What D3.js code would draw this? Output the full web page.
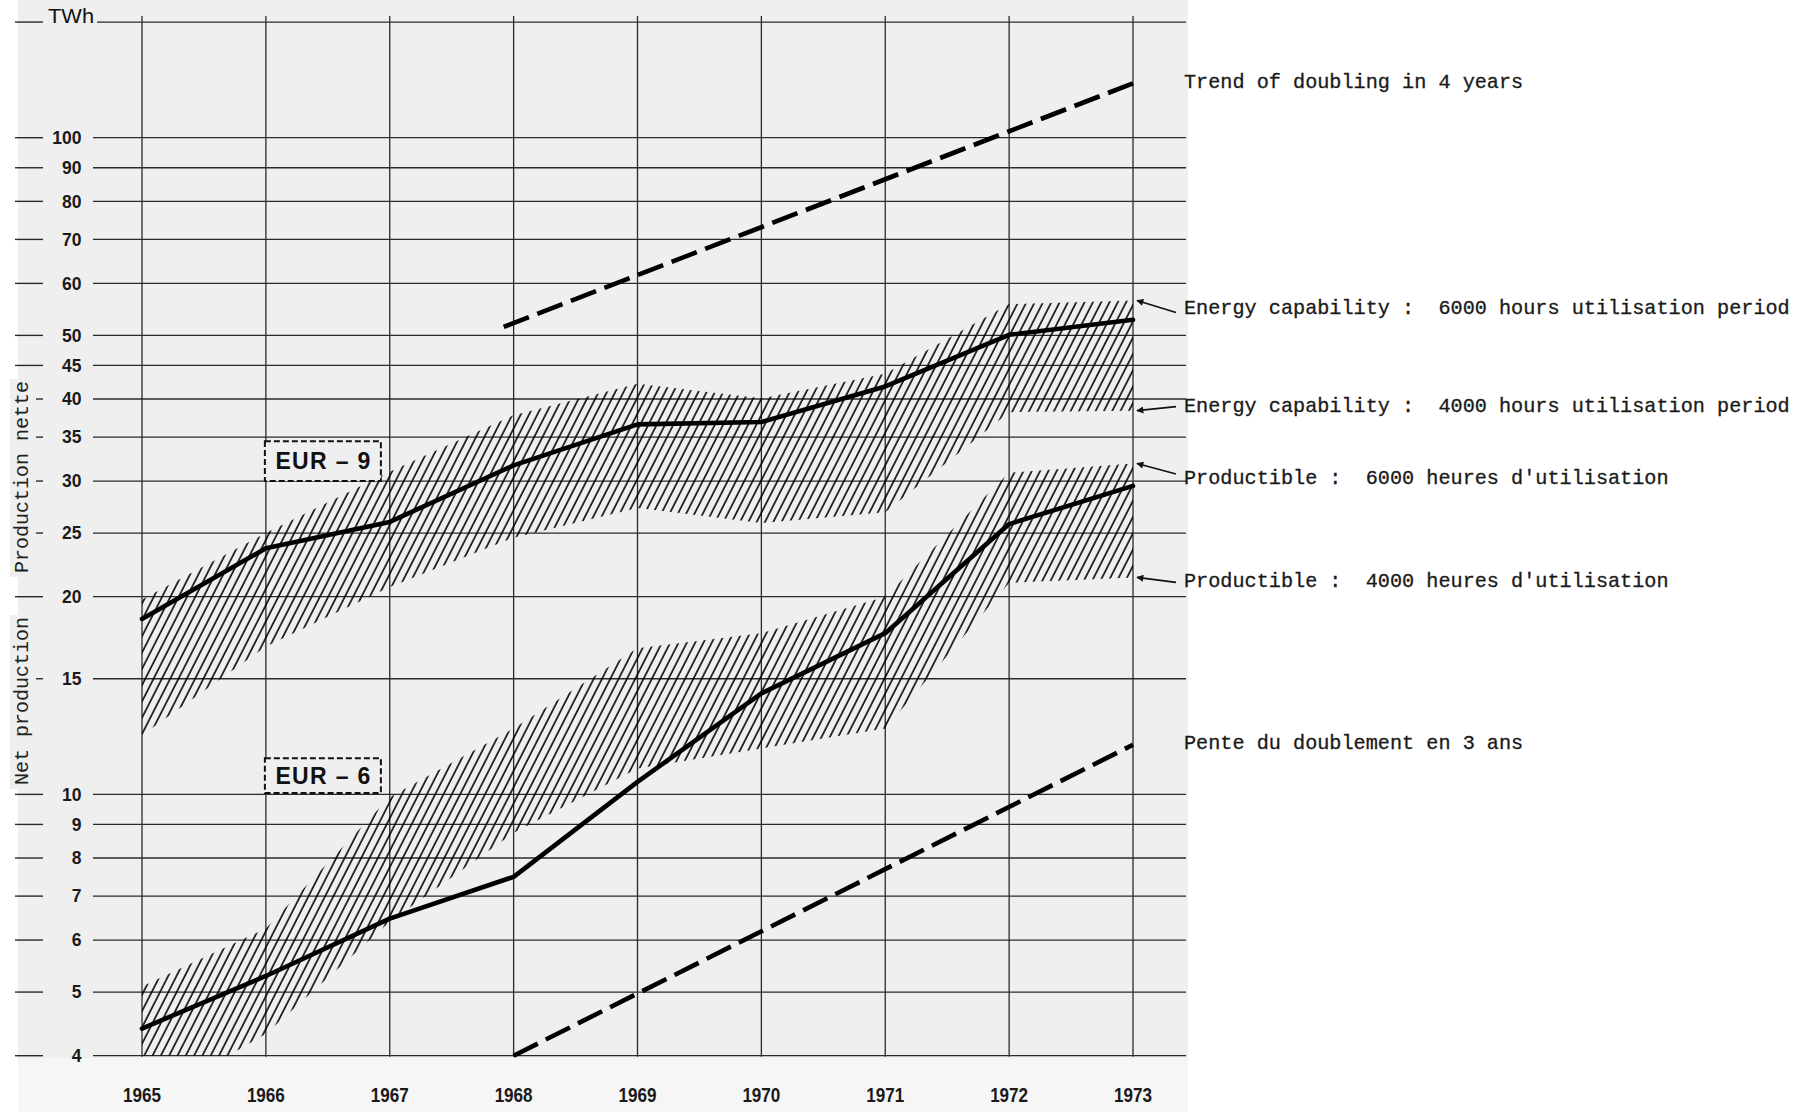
<!DOCTYPE html>
<html><head><meta charset="utf-8">
<script src="https://cdn.jsdelivr.net/npm/d3@7"></script>
<style>body{margin:0;background:#fff} svg{display:block}</style>
</head><body>
<svg id="c" width="1809" height="1112"></svg>
<script>
// ---------------- DATA ----------------
const years = [1965, 1966, 1967, 1968, 1969, 1970, 1971, 1972, 1973];
const yTicks = [4, 5, 6, 7, 8, 9, 10, 15, 20, 25, 30, 35, 40, 45, 50, 60, 70, 80, 90, 100];
const yTopValue = 150;
const yUnit = "TWh";

// EUR-9
const eur9Net     = [18.5, 23.7, 26.0, 31.7, 36.6, 36.9, 41.8, 50.1, 52.8];
const eur9Cap6000 = [19.8, 25.0, 31.0, 37.8, 42.2, 40.1, 43.7, 55.8, 56.5];
const eur9Cap4000 = [12.3, 16.8, 20.7, 24.6, 27.3, 25.9, 26.9, 38.2, 38.4];
// EUR-6
const eur6Net     = [4.4, 5.29, 6.47, 7.49, 10.45, 14.25, 17.6, 25.8, 29.5];
const eur6Cap6000 = [5.1, 6.25, 9.9, 12.6, 16.7, 17.6, 20.0, 30.9, 31.9];
const eur6Cap4000 = [3.35, 4.32, 6.4, 8.74, 10.95, 11.75, 12.6, 21.0, 21.4];

// dashed trend lines [year, value]
const trend4Years = [[1967.92, 51.5], [1973, 121.0]];
const trend3Years = [[1968, 4.0], [1973, 11.9]];

const groupNames = ["EUR – 9", "EUR – 6"];
const groupBoxRange = [[30.0, 34.5], [10.05, 11.35]];

const annotationTexts = [
  "Trend of doubling in 4 years",
  "Energy capability :  6000 hours utilisation period",
  "Energy capability :  4000 hours utilisation period",
  "Productible :  6000 heures d'utilisation",
  "Productible :  4000 heures d'utilisation",
  "Pente du doublement en 3 ans"
];
const annotationTargets = [121.0, 56.5, 38.4, 31.9, 21.4, 11.9];
const annotationArrow = [false, true, true, true, true, false];

const titleParts = ["Net production", "Production nette"];

// ---------------- LAYOUT ----------------
const W = 1809, H = 1112;
const svg = d3.select("#c");
const x = d3.scaleLinear().domain([1965, 1973]).range([142, 1133]);
const y = d3.scaleLog().domain([4, 100]).range([1055.7, 137.7]);
const gridLeft = 93, gridRight = 1186;
const bg = "#efefef";

// background
svg.append("rect").attr("x", 0).attr("y", 0).attr("width", W).attr("height", H).attr("fill", "#fff");
svg.append("rect").attr("x", 18).attr("y", 0).attr("width", 1170).attr("height", 1058).attr("fill", bg);
svg.append("rect").attr("x", 18).attr("y", 1058).attr("width", 1170).attr("height", 54).attr("fill", "#f6f6f6");

const defs = svg.append("defs");
const pat = defs.append("pattern").attr("id", "hatch")
  .attr("patternUnits", "userSpaceOnUse").attr("width", 7.4).attr("height", 20)
  .attr("patternTransform", "rotate(27)");
pat.append("line").attr("x1", 1).attr("x2", 1).attr("y1", 0).attr("y2", 20)
  .attr("stroke", "#000").attr("stroke-width", 1.55);

defs.append("clipPath").attr("id", "plotclip").append("rect")
  .attr("x", x(1965) - 2).attr("y", y(yTopValue)).attr("width", x(1973) - x(1965) + 4)
  .attr("height", y(4) - y(yTopValue));

defs.append("marker").attr("id", "arr").attr("viewBox", "0 0 10 10")
  .attr("refX", 9).attr("refY", 5).attr("markerWidth", 10).attr("markerHeight", 7)
  .attr("markerUnits", "userSpaceOnUse").attr("orient", "auto")
  .append("path").attr("d", "M0,0 L10,5 L0,10 Z").attr("fill", "#111");

// grid
const grid = svg.append("g");
grid.selectAll(".h").data(yTicks).join("line")
  .attr("x1", gridLeft).attr("x2", gridRight)
  .attr("y1", d => y(d)).attr("y2", d => y(d))
  .attr("stroke", "#2a2a2a").attr("stroke-width", 1.3);
grid.append("line").attr("x1", 97).attr("x2", gridRight)
  .attr("y1", y(yTopValue)).attr("y2", y(yTopValue))
  .attr("stroke", "#2a2a2a").attr("stroke-width", 1.3);
grid.selectAll(".v").data(years).join("line")
  .attr("x1", d => x(d)).attr("x2", d => x(d))
  .attr("y1", y(yTopValue) - 6).attr("y2", y(4) + 1)
  .attr("stroke", "#2a2a2a").attr("stroke-width", 1.3);

// left ticks
const ticks = svg.append("g");
ticks.selectAll("line").data(yTicks.concat([yTopValue])).join("line")
  .attr("x1", 15).attr("x2", 43).attr("y1", d => y(d)).attr("y2", d => y(d))
  .attr("stroke", "#2a2a2a").attr("stroke-width", 1.4);

// y labels
svg.append("g").selectAll("text").data(yTicks).join("text")
  .attr("x", 81.5).attr("y", d => y(d)).attr("dy", "0.36em")
  .attr("text-anchor", "end")
  .attr("font-family", "'Liberation Sans', Arial, sans-serif").attr("font-size", 17.5)
  .attr("font-weight", "bold")
  .attr("fill", "#1a1a1a").text(d => d);
svg.append("text").attr("x", 48).attr("y", y(yTopValue) + 1)
  .attr("font-family", "'Liberation Sans', Arial, sans-serif").attr("font-size", 20)
  .attr("fill", "#111").attr("textLength", 46).attr("lengthAdjust", "spacingAndGlyphs")
  .text(yUnit);

// year labels
svg.append("g").selectAll("text").data(years).join("text")
  .attr("x", d => x(d)).attr("y", 1094).attr("dy", "0.36em")
  .attr("text-anchor", "middle")
  .attr("font-family", "'Liberation Sans Narrow', 'Liberation Sans', Arial, sans-serif")
  .attr("font-size", 21).attr("font-weight", "bold").attr("fill", "#1a1a1a")
  .attr("textLength", 38).attr("lengthAdjust", "spacingAndGlyphs")
  .text(d => d);

// rotated title with knockout
const titleStarts = [785, 573];
titleParts.forEach((t, i) => {
  const g = svg.append("g").attr("transform", `translate(28,${titleStarts[i]}) rotate(-90)`);
  const len = t.length * 12;
  g.append("rect").attr("x", -4).attr("y", -18).attr("width", len + 6).attr("height", 26).attr("fill", bg);
  g.append("text").attr("x", 0).attr("y", 0)
    .attr("font-family", "'Liberation Mono', 'Courier New', monospace").attr("font-size", 20)
    .attr("fill", "#222").text(t);
});

// bands
const area = d3.area().x((d, i) => x(years[i])).y0(d => y(d[0])).y1(d => y(d[1]));
const bands = [d3.zip(eur9Cap4000, eur9Cap6000), d3.zip(eur6Cap4000, eur6Cap6000)];
const bandG = svg.append("g").attr("clip-path", "url(#plotclip)");
bands.forEach(b => {
  bandG.append("path").attr("d", area(b)).attr("fill", "url(#hatch)");
});

// net production lines
const line = d3.line().x((d, i) => x(years[i])).y(d => y(d));
[eur9Net, eur6Net].forEach(s => {
  svg.append("path").attr("d", line(s)).attr("fill", "none")
    .attr("stroke", "#000").attr("stroke-width", 4.6)
    .attr("stroke-linejoin", "round").attr("stroke-linecap", "round");
});

// dashed trends
const tline = d3.line().x(d => x(d[0])).y(d => y(d[1]));
[trend4Years, trend3Years].forEach(s => {
  svg.append("path").attr("d", tline(s)).attr("fill", "none")
    .attr("stroke", "#000").attr("stroke-width", 4.6)
    .attr("stroke-dasharray", "27 9");
});

// group boxes
groupNames.forEach((n, i) => {
  const [lo, hi] = groupBoxRange[i];
  const x0 = x(1966) - 1, x1 = x(1966) + 115;
  svg.append("rect").attr("x", x0).attr("y", y(hi)).attr("width", x1 - x0).attr("height", y(lo) - y(hi))
    .attr("fill", bg).attr("stroke", "#111").attr("stroke-width", 2).attr("stroke-dasharray", "6 3");
  svg.append("text").attr("x", (x0 + x1) / 2).attr("y", (y(lo) + y(hi)) / 2).attr("dy", "0.36em")
    .attr("text-anchor", "middle")
    .attr("font-family", "'Liberation Sans', Arial, sans-serif").attr("font-weight", "bold")
    .attr("font-size", 23).attr("fill", "#111")
    .attr("textLength", 95).attr("lengthAdjust", "spacing")
    .text(n);
});

// annotations
const textDy = [-2, 7, -5, 13.5, 3, -2];
const tailDy = [0, 5, 1, -3, 2, 0];
annotationTexts.forEach((t, i) => {
  const ty = y(annotationTargets[i]) + textDy[i];
  svg.append("text").attr("x", 1184).attr("y", ty).attr("dy", "0.33em")
    .attr("font-family", "'Liberation Mono', 'Courier New', monospace").attr("font-size", 20.2)
    .attr("fill", "#1a1a1a").attr("stroke", "#1a1a1a").attr("stroke-width", 0.3)
    .style("white-space", "pre").text(t);
  if (annotationArrow[i]) {
    svg.append("line").attr("x1", 1176).attr("y1", ty + tailDy[i])
      .attr("x2", x(1973) + 4).attr("y2", y(annotationTargets[i]))
      .attr("stroke", "#111").attr("stroke-width", 1.6).attr("marker-end", "url(#arr)");
  }
});
</script>
</body></html>
